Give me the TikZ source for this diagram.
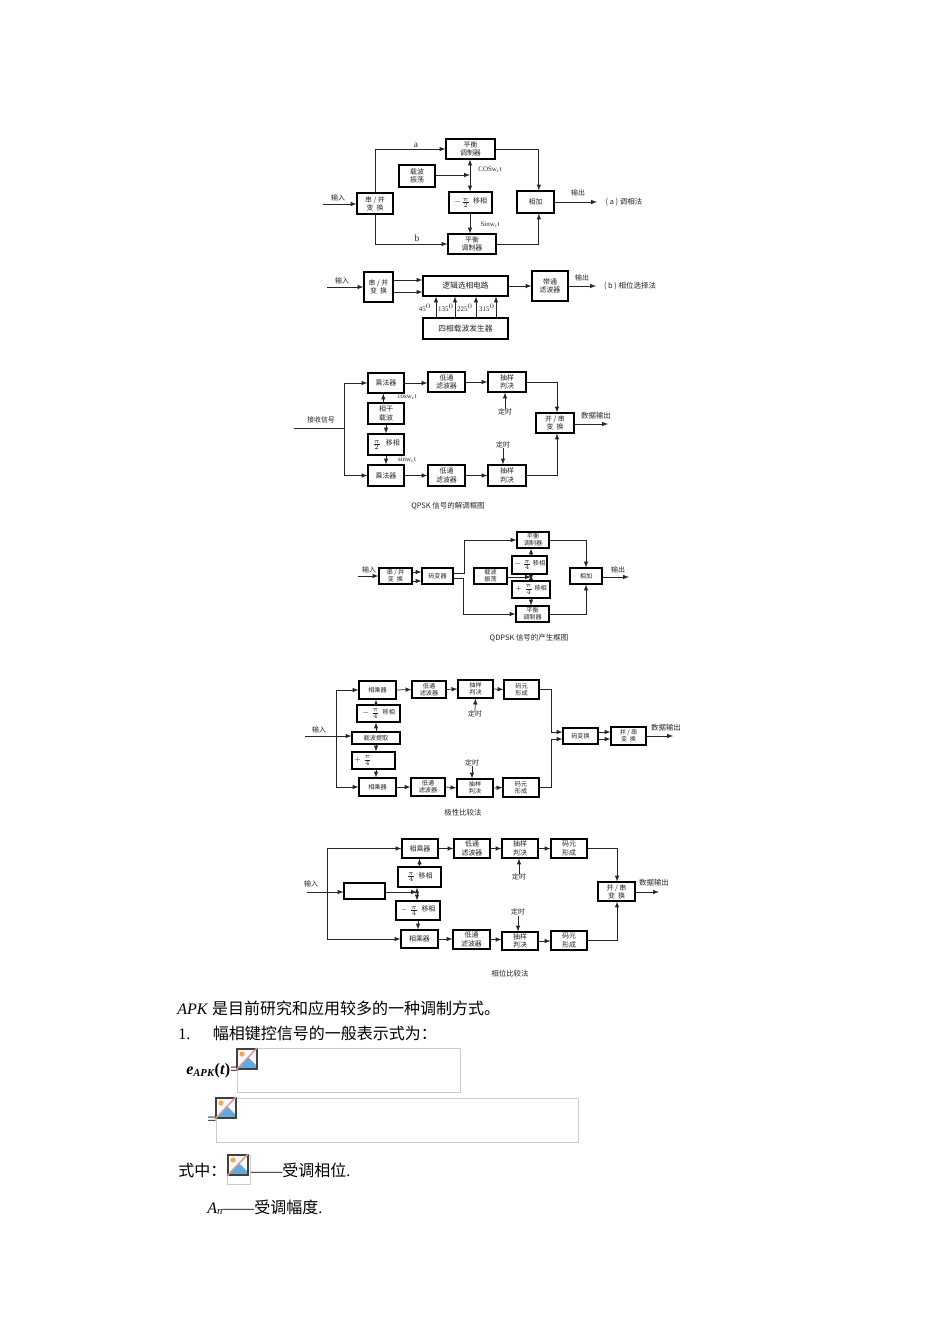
\documentclass[tikz,border=0pt]{standalone}
\usepackage{fontspec}
\setmainfont{Liberation Serif}
\newfontfamily\cjk{Noto Sans CJK SC}
\newcommand{\dg}{\fontsize{5.2}{6.2}\cjk}
\newcommand{\bodycn}[1]{{\fontsize{12}{14}\cjk #1}}
\definecolor{imgblue}{RGB}{96,170,222}
\definecolor{imgsun}{RGB}{240,170,90}
\definecolor{imgslash}{RGB}{225,150,150}
\tikzset{
  blk/.style 2 args={draw, line width=0.8pt, minimum width=#1*0.75pt, minimum height=#2*0.75pt,
    inner sep=0pt, align=center, font=\dg\selectfont, text=black!85},
  blks/.style 2 args={blk={#1}{#2}, font=\fontsize{4.6}{5.4}\cjk\selectfont},
  lab/.style={inner sep=0pt, align=center, font=\dg\selectfont, text=black!85},
  capt/.style={inner sep=0pt, align=center, font=\fontsize{5.6}{6.4}\cjk\selectfont, text=black!85},
  body/.style={inner sep=0pt, anchor=west, font=\fontsize{12}{14}\selectfont},
  arr/.style={-latex, line width=0.55pt, black!85},
  lin/.style={line width=0.55pt, black!85},
  imgbox/.style={draw=black!20, line width=0.5pt},
  pics/brokenimg/.style={code={
    \fill[black!3] (0,0) rectangle (20,20);
    \fill[imgblue] (1,19) -- (11,8) -- (19,16) -- (19,19) -- cycle;
    \fill[imgsun] (5,5) circle (2.6);
    \draw[black!75, line width=0.8pt] (0,0) rectangle (20,20);
    \draw[imgslash, line width=1.1pt] (-1,21) -- (20,-1);
  }}
}
\begin{document}
\begin{tikzpicture}[x=0.75pt,y=-0.75pt]
\useasboundingbox[fill=white] (0,0) rectangle (950,1344);

% (a) modulation
\node[blk={49}{20}] (balA) at (470.5,149) {平衡\\调制器};
\node[blk={36}{22}] (oscA) at (417,176) {载波\\振荡};
\node[blk={43}{21}] (shA) at (470.5,202.5) {$-\frac{\pi}{2}$\ \ 移相};
\node[blk={36}{21}] (spA) at (375,203.5) {串 / 并\\变\ \ 换};
\node[blk={37}{22}] (addA) at (535.5,202) {相加};
\node[blk={48}{20}] (balB) at (472,244) {平衡\\调制器};
\coordinate (inA) at (323,204);
\coordinate (jA) at (470,175);
\coordinate (outA) at (597,202);
\draw[arr] (inA) -- (inA -| spA.west);
\draw[arr] (spA.north) |- (balA.west);
\draw[arr] (spA.south) |- (balB.west);
\draw[arr] (balA.east) -| ([xshift=2.5pt]addA.north);
\draw[arr] (balB.east) -| ([xshift=2.5pt]addA.south);
\draw[arr] (outA -| addA.east) -- (outA);
\draw[arr] (oscA.east |- jA) -- (jA);
\draw[arr] (jA) -- (jA |- balA.south);
\draw[arr] (jA) -- (jA |- shA.north);
\draw[arr] (jA |- shA.south) -- (jA |- balB.north);
\node[lab] (labInA) at (338,198) {输入};
\node[lab] (labOutA) at (578,193) {输出};
\node[lab] (labA) at (416,145) {\fontsize{7}{8}\selectfont\rmfamily a};
\node[lab] (labB) at (417,238) {\fontsize{7}{8}\selectfont\rmfamily b};
\node[lab] (labCos) at (490,170) {\rmfamily COSw$_{\mathrm c}$t};
\node[lab] (labSin) at (490,225) {\rmfamily Sinw$_{\mathrm c}$t};
\node[capt] (capA) at (624,202) {( a ) 调相法};

% (b) phase selection
\node[blk={29}{30}] (spB) at (378.5,287) {串 / 并\\变\ \ 换};
\node[blk={85}{20}] (logB) at (465.5,286) {\fontsize{5.8}{6.5}\selectfont 逻辑选相电路};
\node[blk={36}{30}] (bpfB) at (550,286) {带通\\滤波器};
\node[blk={85}{21}] (genB) at (465.5,328.5) {\fontsize{5.8}{6.5}\selectfont 四相载波发生器};
\coordinate (inB) at (327,287);
\coordinate (tpB) at (400,280);
\coordinate (bmB) at (400,292);
\coordinate (outB) at (596,286);
\coordinate (g1) at (436,330);
\coordinate (g2) at (455,330);
\coordinate (g3) at (476,330);
\coordinate (g4) at (496,330);
\draw[arr] (inB) -- (inB -| spB.west);
\draw[arr] (tpB -| spB.east) -- (tpB -| logB.west);
\draw[arr] (bmB -| spB.east) -- (bmB -| logB.west);
\draw[arr] (logB.east) -- (bpfB.west);
\draw[arr] (bpfB.east) -- (outB);
\foreach \g in {g1,g2,g3,g4}
  \draw[arr] (\g |- genB.north) -- (\g |- logB.south);
\node[lab] (lab45) at (425,308) {\rmfamily 45$^{0}$};
\node[lab] (lab135) at (446,308) {\rmfamily 135$^{0}$};
\node[lab] (lab225) at (465,308) {\rmfamily 225$^{0}$};
\node[lab] (lab315) at (487,308) {\rmfamily 315$^{0}$};
\node[lab] (labInB) at (342,281) {输入};
\node[lab] (labOutB) at (582,278) {输出};
\node[capt] (capB) at (630,286) {( b ) 相位选择法};

% QPSK demodulation
\node[blk={36}{20}] (mulC) at (386,383) {乘法器};
\node[blk={37}{20}] (lpfC) at (446.5,382) {低通\\滤波器};
\node[blk={38}{20}] (decC) at (507,382) {抽样\\判决};
\node[blk={38}{20}] (psC) at (555,423) {并 / 串\\变\ \ 换};
\node[blk={36}{21}] (cohC) at (386,413.5) {相干\\载波};
\node[blk={36}{21}] (shC) at (386,444.5) {$\frac{\pi}{2}$\ \ \ 移相};
\node[blk={36}{21}] (mulD) at (386,475.5) {乘法器};
\node[blk={37}{21}] (lpfD) at (446.5,475.5) {低通\\滤波器};
\node[blk={38}{21}] (decD) at (507,475.5) {抽样\\判决};
\node[lab] (timeC) at (505,412) {定时};
\node[lab] (timeD) at (503,445) {定时};
\coordinate (inC) at (294,428);
\coordinate (brC) at (344,428);
\coordinate (outC) at (608,424);
\coordinate (c1) at (557,400);
\draw[lin] (inC) -- (brC);
\draw[arr] (brC) |- (mulC.west);
\draw[arr] (brC) |- (mulD.west);
\draw[arr] (mulC.east) -- (mulC.east -| lpfC.west);
\draw[arr] (lpfC.east) -- (decC.west);
\draw[arr] (mulD.east) -- (lpfD.west);
\draw[arr] (lpfD.east) -- (decD.west);
\draw[arr] (decC.east) -| (c1 |- psC.north);
\draw[arr] (decD.east) -| (c1 |- psC.south);
\draw[arr] (psC.east |- outC) -- (outC);
\draw[arr] ([xshift=-2pt]cohC.north) -- ([xshift=-2pt]mulC.south);
\draw[arr] (cohC.south) -- (shC.north);
\draw[arr] (shC.south) -- (mulD.north);
\draw[arr] (timeC.north) -- (timeC.north |- decC.south);
\draw[arr] (timeD.south) -- (timeD.south |- decD.north);
\node[lab] (labRx) at (321,420) {接收信号};
\node[lab] (labCosC) at (407,397) {\rmfamily cosw$_{\mathrm c}$t};
\node[lab] (labSinC) at (407,460) {\rmfamily sinw$_{\mathrm c}$t};
\node[capt] (labOutC) at (596,416) {数据输出};
\node[capt] (capC) at (448,506) {QPSK 信号的解调框图};

% QDPSK generation
\node[blks={33}{16}] (spE) at (395.5,576) {串 / 并\\变\ \ 换};
\node[blks={31}{16}] (codeE) at (437.5,576) {码变器};
\node[blks={32}{16}] (balE) at (533,540) {平衡\\调制器};
\node[blks={35}{18}] (smE) at (529.5,565) {$-\,\frac{\pi}{4}$\ 移相};
\node[blks={38}{17}] (spE2) at (531,589.5) {$+$\,\,$\frac{\pi}{4}$\ 移相};
\node[blks={33}{16}] (balF) at (532.5,614) {平衡\\调制器};
\node[blks={33}{16}] (oscE) at (490.5,576) {载波\\振荡};
\node[blks={32}{16}] (addE) at (586,576) {相加};
\coordinate (inE) at (358,576);
\coordinate (tpE) at (415,572);
\coordinate (bmE) at (415,581);
\coordinate (ctE) at (464,573);
\coordinate (cbE) at (463,578);
\coordinate (jE) at (531,577);
\coordinate (outE) at (629,577);
\draw[arr] (inE) -- (inE -| spE.west);
\draw[arr] (tpE -| spE.east) -- (tpE -| codeE.west);
\draw[arr] (bmE -| spE.east) -- (bmE -| codeE.west);
\draw[arr] (ctE -| codeE.east) -- (ctE) |- (balE.west);
\draw[arr] (cbE -| codeE.east) -- (cbE) |- (balF.west);
\draw[arr] (balE.east) -| (addE.north);
\draw[arr] (balF.east) -| (addE.south);
\draw[arr] (addE.east |- outE) -- (outE);
\draw[arr] (oscE.east |- jE) -- (jE);
\draw[arr] (jE) -- (jE |- smE.south);
\draw[arr] (jE) -- (jE |- spE2.north);
\draw[arr] (jE |- smE.north) -- (jE |- balE.south);
\draw[arr] (jE |- spE2.south) -- (jE |- balF.north);
\node[lab] (labInE) at (369,570) {输入};
\node[lab] (labOutE) at (618,570) {输出};
\node[capt] (capE) at (529,638) {QDPSK 信号的产生框图};

% polarity comparison
\node[blks={37}{18}] (mulG) at (377.5,690) {相乘器};
\node[blks={34}{17}] (lpfG) at (429,689.5) {低通\\滤波器};
\node[blks={35}{18}] (decG) at (475.5,689) {抽样\\判决};
\node[blks={35}{19}] (cdG) at (521.5,689.5) {码元\\形成};
\node[blks={43}{17}] (shG) at (378.5,713.5) {$-\,\frac{\pi}{4}$\ \ 移相};
\node[blks={48}{12}] (carG) at (376,738) {载波提取};
\node[blks={43}{17}, align=left, text width=39*0.75pt] (plG) at (373.5,760.5) {$+$\,\,$\frac{\pi}{4}$};
\node[blks={37}{18}] (mulH) at (377.5,787) {相乘器};
\node[blks={34}{18}] (lpfH) at (428,787) {低通\\滤波器};
\node[blks={36}{18}] (decH) at (475,788) {抽样\\判决};
\node[blks={36}{19}] (cdH) at (521,787.5) {码元\\形成};
\node[blks={35}{16}] (cvG) at (580.5,736) {码变换};
\node[blks={35}{18}] (psG) at (628.5,736) {并 / 串\\变\ \ 换};
\node[lab] (timeG) at (475,714) {定时};
\node[lab] (timeH) at (472,763) {定时};
\coordinate (inG) at (305,736);
\coordinate (brG) at (336,736);
\coordinate (elG) at (551,732);
\coordinate (ebG) at (551,739);
\coordinate (outG) at (673,736);
\draw[lin] (inG) -- (brG);
\draw[arr] (brG) -- (brG -| carG.west);
\draw[arr] (brG) |- (mulG.west);
\draw[arr] (brG) |- (mulH.west);
\draw[arr] (mulG.east) -- (lpfG.west);
\draw[arr] (lpfG.east) -- (decG.west);
\draw[arr] (decG.east) -- (cdG.west);
\draw[arr] (mulH.east) -- (lpfH.west);
\draw[arr] (lpfH.east) -- (decH.west);
\draw[arr] (decH.east) -- (cdH.west);
\draw[lin] (cdG.east) -| (elG);
\draw[arr] (elG) -- (elG -| cvG.west);
\draw[lin] (cdH.east) -| (ebG);
\draw[arr] (ebG) -- (ebG -| cvG.west);
\draw[arr] (elG -| cvG.east) -- (elG -| psG.west);
\draw[arr] (ebG -| cvG.east) -- (ebG -| psG.west);
\draw[arr] (psG.east |- outG) -- (outG);
\draw[arr] (carG.north) -- (carG.north |- shG.south);
\draw[arr] (carG.north |- shG.north) -- (carG.north |- mulG.south);
\draw[arr] (carG.south) -- (carG.south |- plG.north);
\draw[arr] (carG.south |- plG.south) -- (carG.south |- mulH.north);
\draw[arr] (timeG.north) -- (decG.south);
\draw[arr] (timeH.south) -- (timeH.south |- decH.north);
\node[lab] (labInG) at (319,730) {输入};
\node[capt] (labOutG) at (666,728) {数据输出};
\node[capt] (capG) at (463,813) {极性比较法};

% phase comparison
\node[blk={36}{19}] (mulJ) at (420,848.5) {相乘器};
\node[blk={36}{19}] (lpfJ) at (472,848.5) {低通\\滤波器};
\node[blk={36}{19}] (decJ) at (520,848.5) {抽样\\判决};
\node[blk={36}{19}] (cdJ) at (569,848.5) {码元\\形成};
\node[blk={43}{20}] (smJ) at (419.5,877) {$\frac{\pi}{4}$\ \ 移相};
\node[blk={41}{16}] (boxJ) at (364.5,891) {};
\node[blk={44}{19}] (spJ) at (418,910.5) {$-\,\frac{\pi}{4}$\ \ 移相};
\node[blk={37}{18}] (mulK) at (419.5,939) {相乘器};
\node[blk={37}{19}] (lpfK) at (471.5,939.5) {低通\\滤波器};
\node[blk={36}{18}] (decK) at (520,941) {抽样\\判决};
\node[blk={36}{19}] (cdK) at (569,940.5) {码元\\形成};
\node[blk={37}{19}] (psJ) at (616.5,891.5) {并 / 串\\变\ \ 换};
\node[lab] (timeJ) at (519,877) {定时};
\node[lab] (timeK) at (518,912) {定时};
\coordinate (inJ) at (307,892);
\coordinate (brJ) at (327,892);
\coordinate (jJ) at (417,892);
\coordinate (eJ) at (617,890);
\coordinate (outJ) at (659,892);
\draw[lin] (inJ) -- (brJ);
\draw[arr] (brJ) -- (brJ -| boxJ.west);
\draw[arr] (brJ) |- (mulJ.west);
\draw[arr] (brJ) |- (mulK.west);
\draw[arr] (boxJ.east |- jJ) -- (jJ);
\draw[arr] (jJ) -- (jJ |- smJ.south);
\draw[arr] (jJ) -- (jJ |- spJ.north);
\draw[arr] (smJ.north) -- (smJ.north |- mulJ.south);
\draw[arr] (spJ.south) -- (spJ.south |- mulK.north);
\draw[arr] (mulJ.east) -- (lpfJ.west);
\draw[arr] (lpfJ.east) -- (decJ.west);
\draw[arr] (decJ.east) -- (cdJ.west);
\draw[arr] (mulK.east) -- (mulK.east -| lpfK.west);
\draw[arr] (lpfK.east) -- (lpfK.east -| decK.west);
\draw[arr] (decK.east) -- (decK.east -| cdK.west);
\draw[arr] (cdJ.east) -| (eJ |- psJ.north);
\draw[arr] (cdK.east) -| (eJ |- psJ.south);
\draw[arr] (psJ.east |- outJ) -- (outJ);
\draw[arr] (timeJ.north) -- (timeJ.north |- decJ.south);
\draw[arr] (timeK.south) -- (timeK.south |- decK.north);
\node[lab] (labInJ) at (311,884) {输入};
\node[capt] (labOutJ) at (654,883) {数据输出};
\node[capt] (capJ) at (510,974) {相位比较法};

% text below
\node[body] (lineA) at (177,1008) {\textit{APK} \bodycn{是目前研究和应用较多的一种调制方式。}};
\node[body] (lineB) at (178,1033) {1.\hspace{17pt}\bodycn{幅相键控信号的一般表示式为：}};
\node[body] (lineC) at (186,1071) {\textbf{\textit{e}}{\fontsize{8}{9}\selectfont\raisebox{-1pt}{\textbf{\textit{APK}}}}\textbf{(\textit{t})}=};
\node[body] (lineD) at (207,1121) {=};
\node[body] (lineE) at (178,1170) {\bodycn{式中：}};
\node[body] (lineF) at (250,1170) {——\bodycn{受调相位}.};
\node[body] (lineG) at (207,1207) {\textit{A}{\fontsize{8}{9}\selectfont\raisebox{-1pt}{\textit{n}}}——\bodycn{受调幅度}.};
\draw[imgbox] (237,1048) rectangle (460,1092);
\draw[imgbox] (216,1098) rectangle (578,1142);
\draw[imgbox] (227,1155) rectangle (250,1184);
\pic at (237,1049) {brokenimg};
\pic at (216,1098) {brokenimg};
\pic at (228,1155) {brokenimg};
\end{tikzpicture}
\end{document}
